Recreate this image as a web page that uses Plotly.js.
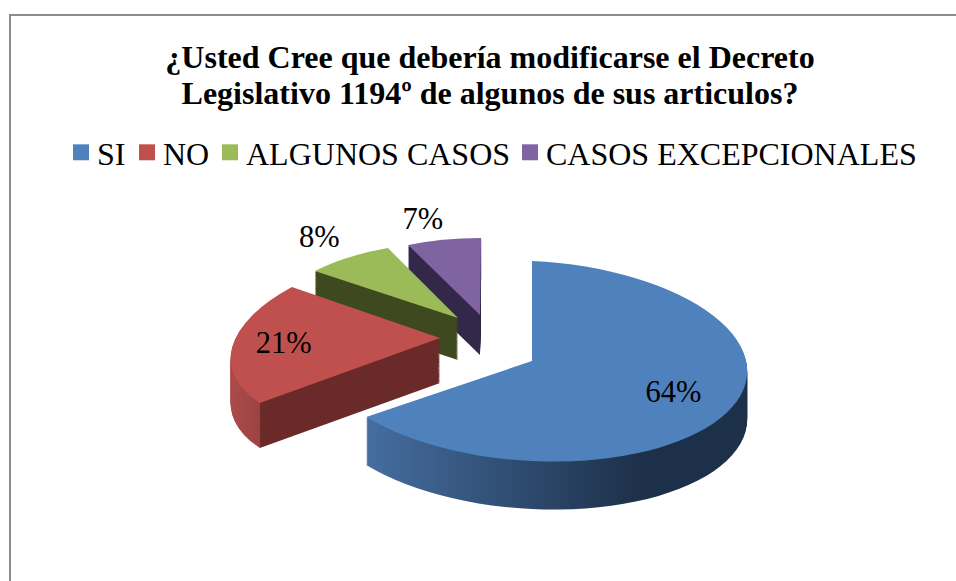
<!DOCTYPE html>
<html><head><meta charset="utf-8">
<script src="https://cdn.plot.ly/plotly-3.0.1.min.js"></script>
<style>html,body{margin:0;padding:0;background:#fff;overflow:hidden}#c{width:956px;height:581px}</style>
</head><body><div id="c"></div>
<script>
var titleLines = ['¿Usted Cree que debería modificarse el Decreto','Legislativo 1194º de algunos de sus articulos?'];
var categories = ['SI','NO','ALGUNOS CASOS','CASOS EXCEPCIONALES'];
var percentages = [64,21,8,7];
var topColors = ['#4F81BD','#C0504D','#9BBB59','#8064A2'];
var sideColors = ['#2c4668','#6a2a2a','#3f4a20','#33284a'];
var textPositions = ['inside','inside','outside','outside'];

// 3-D look: each wedge's linear projection, where its tip lands and how thick it is
var projection = [[1,0,0.047,0.465],[0.961,-0.152,-0.027,0.441],[0.852,-0.041,0.013,0.353],[0.795,-0.005,0.003,0.358]];
var tips = [[532,361],[440,338],[458,318],[480,315]];
var thickness = [48,45,42,40];
var labelNudges = [[44,10],[-26,5],[-4,-10],[2,-8]];
var legendSwatchX = [81,147,230,530];

var W=956,H=581;
var SERIF='"Liberation Serif","Times New Roman",serif';
var PULL=0.22, LAYERS=48;
var common={type:'pie',labels:categories,values:percentages,sort:false,direction:'clockwise',rotation:0,
  pull:PULL,domain:{x:[225.5/W,750.5/W],y:[0,1]},hoverinfo:'skip'};
var traces=[];
for(var d=LAYERS;d>=1;d--){
  traces.push(Object.assign({},common,{marker:{colors:sideColors,line:{width:0}},textinfo:'none',showlegend:false}));
}
traces.push(Object.assign({},common,{marker:{colors:topColors,line:{width:0}},texttemplate:'%{value}%',textposition:textPositions,
  insidetextfont:{family:SERIF,size:30.5,color:'#000'},outsidetextfont:{family:SERIF,size:30.5,color:'#000'},showlegend:true}));

var layout={width:W,height:H,margin:{l:0,r:0,t:0,b:0,autoexpand:false},paper_bgcolor:'#fff',hovermode:false,
  title:{text:'<b>'+titleLines[0]+'</b><br><b>'+titleLines[1]+'</b>',x:490/W,xanchor:'center',y:1-67.5/H,yanchor:'top',
    font:{family:SERIF,size:32,color:'#000'}},
  legend:{orientation:'h',x:65/W,xanchor:'left',y:1-125/H,yanchor:'top',font:{family:SERIF,size:32,color:'#000'},
    bgcolor:'rgba(0,0,0,0)',itemclick:false,itemdoubleclick:false},
  shapes:[
   {type:'line',xref:'paper',yref:'paper',x0:10/W,x1:1,y0:1-15/H,y1:1-15/H,line:{color:'#8c8c8c',width:2}},
   {type:'line',xref:'paper',yref:'paper',x0:10/W,x1:10/W,y0:0,y1:1-14/H,line:{color:'#8c8c8c',width:2}}
  ]};

Plotly.newPlot('c',traces,layout,{displayModeBar:false}).then(function(gd){
  var svg=gd.querySelector('.main-svg');
  var ns='http://www.w3.org/2000/svg';
  var defs=svg.querySelector('defs')||svg.insertBefore(document.createElementNS(ns,'defs'),svg.firstChild);
  function grad(id,x1,x2,stops){
    var g=document.createElementNS(ns,'linearGradient');
    g.setAttribute('id',id);g.setAttribute('gradientUnits','userSpaceOnUse');
    g.setAttribute('x1',x1);g.setAttribute('x2',x2);g.setAttribute('y1',0);g.setAttribute('y2',0);
    stops.forEach(function(s){var e=document.createElementNS(ns,'stop');e.setAttribute('offset',s[0]);e.setAttribute('stop-color',s[1]);g.appendChild(e);});
    defs.appendChild(g);
  }
  grad('sideBlue',366,640,[[0,'#456d9f'],[1,'#1d3049']]);
  grad('sideRed',226,276,[[0,'#ad4c4a'],[0.97,'#9c4442'],[0.985,'#6a2a2a'],[1,'#6a2a2a']]);

  var tr=Array.prototype.slice.call(gd.querySelectorAll('.pielayer .trace'));
  var topIdx=tr.length-1, sideGroup=document.createElementNS(ns,'g');
  tr[topIdx].parentNode.insertBefore(sideGroup,tr[topIdx]);
  var apex=[];
  tr[topIdx].querySelectorAll('.slice path.surface').forEach(function(p,i){
    var m=/M\s*([-\d.]+)[ ,]([-\d.]+)/.exec(p.getAttribute('d'));
    apex[i]=[+m[1],+m[2]];
  });
  function matrixFor(i,off){
    var M=projection[i],T=tips[i],A=apex[i];
    return 'translate('+T[0]+','+(T[1]+off)+') matrix('+M[0]+','+M[2]+','+M[1]+','+M[3]+',0,0) translate('+(-A[0])+','+(-A[1])+')';
  }
  [3,2,1,0].forEach(function(i){
    for(var t=0;t<topIdx;t++){
      var s=tr[t].querySelectorAll('.slice')[i], p=s.querySelector('path.surface');
      p.setAttribute('transform',matrixFor(i,(topIdx-t)*thickness[i]/LAYERS));
      if(i===0)p.style.fill='url(#sideBlue)';
      if(i===1)p.style.fill='url(#sideRed)';
      sideGroup.appendChild(s);
    }
  });
  tr[topIdx].querySelectorAll('.slice').forEach(function(s,i){
    s.querySelector('path.surface').setAttribute('transform',matrixFor(i,0));
    var t=s.querySelector('text.slicetext');
    if(t){
      var a=/translate\(\s*([-\d.]+)[ ,]+([-\d.]+)\s*\)(.*)/.exec(t.getAttribute('transform')||'');
      if(a){
        var M=projection[i],T=tips[i],A=apex[i],dx=+a[1]-A[0],dy=+a[2]-A[1],n=labelNudges[i];
        t.setAttribute('transform','translate('+(T[0]+M[0]*dx+M[1]*dy+n[0])+','+(T[1]+M[2]*dx+M[3]*dy+n[1])+')');
      }
    }
  });

  // legend rows as drawn in the reference: larger squares, tighter text
  var lx=+/translate\(\s*([-\d.]+)/.exec(gd.querySelector('.legend').getAttribute('transform'))[1];
  var sb=gd.querySelector('.legend .scrollbox'); if(sb)sb.removeAttribute('clip-path');
  var lg=gd.querySelector('.legend'); if(lg)lg.removeAttribute('clip-path');
  gd.querySelectorAll('.legend .traces').forEach(function(g,i){
    var y=/,\s*([-\d.]+)\)/.exec(g.getAttribute('transform'));
    g.setAttribute('transform','translate('+(legendSwatchX[i]-lx-20)+','+(y?y[1]:0)+')');
    var t=g.querySelector('text.legendtext');
    t.setAttribute('x',36);
    t.querySelectorAll('tspan').forEach(function(ts){if(ts.getAttribute('x'))ts.setAttribute('x',36);});
    g.querySelectorAll('.legendpoints path').forEach(function(p){
      p.setAttribute('transform',(p.getAttribute('transform')||'')+' scale(1.33)');
    });
  });
  var lines=gd.querySelectorAll('.gtitle tspan.line');
  if(lines[1])lines[1].setAttribute('dy',(36/32)+'em');
});
</script></body></html>
